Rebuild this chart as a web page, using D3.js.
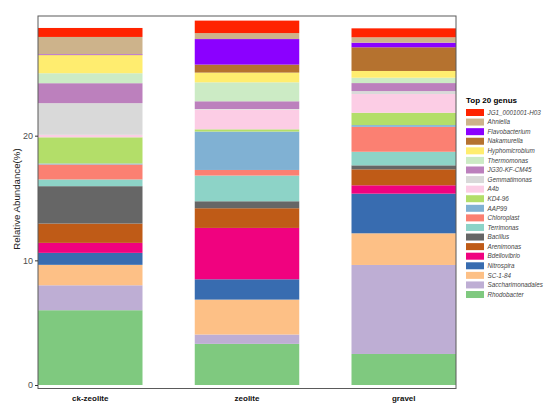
<!DOCTYPE html>
<html>
<head>
<meta charset="UTF-8">
<title>Top 20 genus</title>
<script src="https://cdn.jsdelivr.net/npm/d3@7/dist/d3.min.js"></script>
<style>
  body { margin: 0; background: #fff; }
  text { font-family: "Liberation Sans", Arial, sans-serif; }
</style>
</head>
<body>
<script>
// samples along x
var samples = ["ck-zeolite", "zeolite", "gravel"];

// genus in legend order (top of stack first)
var genera = ["JG1_0001001-H03", "Ahniella", "Flavobacterium", "Nakamurella",
  "Hyphomicrobium", "Thermomonas", "JG30-KF-CM45", "Gemmatimonas", "A4b",
  "KD4-96", "AAP99", "Chloroplast", "Terrimonas", "Bacillus", "Arenimonas",
  "Bdellovibrio", "Nitrospira", "SC-1-84", "Saccharimonadales", "Rhodobacter"];

var colors = ["#FF2300", "#CDB38B", "#8B00FF", "#B5722F", "#FFED6F", "#CCEBC5",
  "#BC80BD", "#D9D9D9", "#FCCDE5", "#B3DE69", "#80B1D3", "#FB8072", "#8DD3C7",
  "#666666", "#BF5B17", "#F0027F", "#386CB0", "#FDC086", "#BEAED4", "#7FC97F"];

// relative abundance (%), same order as genera
var ckZeolite = [0.72, 1.39, 0.04, 0.03, 1.45, 0.80, 1.60, 2.54, 0.20, 2.10,
  0.08, 1.20, 0.54, 3.00, 1.55, 0.80, 0.96, 1.64, 2.00, 6.00];
var zeolite = [1.00, 0.48, 2.05, 0.64, 0.78, 1.52, 0.62, 0.05, 1.58, 0.18,
  3.08, 0.45, 2.06, 0.56, 1.58, 4.12, 1.63, 2.80, 0.75, 3.30];
var gravel = [0.72, 0.43, 0.37, 1.90, 0.54, 0.43, 0.64, 0.24, 1.50, 0.99,
  0.14, 2.00, 1.09, 0.32, 1.28, 0.67, 3.18, 2.54, 7.14, 2.49];

var yTicks = [0, 10, 20];

(function() {
  var table = [ckZeolite, zeolite, gravel].map(function(vals, i) {
    var row = {sample: samples[i]};
    genera.forEach(function(g, j) { row[g] = vals[j]; });
    return row;
  });

  var W = 550, H = 418;
  var pLeft = 38, pRight = 456, pTop = 16, pBottom = 388.5;

  var svg = d3.select("body").append("svg")
    .attr("width", W)
    .attr("height", H);

  var x = d3.scaleBand()
    .domain(samples)
    .range([pLeft, pRight])
    .paddingInner(1 / 3)
    .paddingOuter(0);

  var y = d3.scaleLinear()
    .domain([-0.28, 29.6])
    .range([pBottom, pTop]);

  var color = d3.scaleOrdinal().domain(genera).range(colors);

  // bottom of stack is the last genus
  var stack = d3.stack().keys(genera.slice().reverse());
  var series = stack(table);

  svg.append("g").selectAll("g")
    .data(series)
    .join("g")
      .attr("fill", function(d) { return color(d.key); })
    .selectAll("rect")
    .data(function(d) { return d; })
    .join("rect")
      .attr("x", function(d) { return x(d.data.sample); })
      .attr("width", x.bandwidth())
      .attr("y", function(d) { return y(d[1]); })
      .attr("height", function(d) { return y(d[0]) - y(d[1]); });

  // panel border
  svg.append("rect")
    .attr("x", pLeft)
    .attr("y", pTop)
    .attr("width", pRight - pLeft)
    .attr("height", pBottom - pTop)
    .attr("fill", "none")
    .attr("stroke", "#5a5a5a")
    .attr("stroke-width", 1);

  // y axis
  var yAxis = svg.append("g")
    .attr("transform", "translate(" + pLeft + ",0)")
    .call(d3.axisLeft(y).tickValues(yTicks).tickSize(3).tickPadding(2));
  yAxis.select(".domain").remove();
  yAxis.selectAll(".tick line").attr("stroke", "#333");
  yAxis.selectAll(".tick text")
    .attr("fill", "#4d4d4d")
    .style("font-size", "9px");

  svg.append("text")
    .attr("transform", "translate(20,199) rotate(-90)")
    .attr("text-anchor", "middle")
    .attr("fill", "#222")
    .style("font-size", "9.7px")
    .text("Relative Abundance(%)");

  // x labels
  svg.append("g").selectAll("text")
    .data(samples)
    .join("text")
      .attr("x", function(d) { return x(d) + x.bandwidth() / 2; })
      .attr("y", 401)
      .attr("text-anchor", "middle")
      .attr("fill", "#111")
      .style("font-size", "8px")
      .style("font-weight", "bold")
      .text(function(d) { return d; });

  // legend
  var legend = svg.append("g").attr("transform", "translate(466,0)");
  legend.append("text")
    .attr("x", 0)
    .attr("y", 103)
    .attr("fill", "#000")
    .style("font-size", "8px")
    .style("font-weight", "bold")
    .text("Top 20 genus");

  var item = legend.selectAll("g.item")
    .data(genera)
    .join("g")
      .attr("class", "item")
      .attr("transform", function(d, i) { return "translate(0," + (109 + i * 9.58) + ")"; });

  item.append("rect")
    .attr("width", 18)
    .attr("height", 7)
    .attr("fill", function(d) { return color(d); });

  item.append("text")
    .attr("x", 21.5)
    .attr("y", 3.5)
    .attr("dy", "0.35em")
    .attr("fill", "#444")
    .style("font-size", "6.3px")
    .style("font-style", "italic")
    .text(function(d) { return d; });
})();
</script>
</body>
</html>
